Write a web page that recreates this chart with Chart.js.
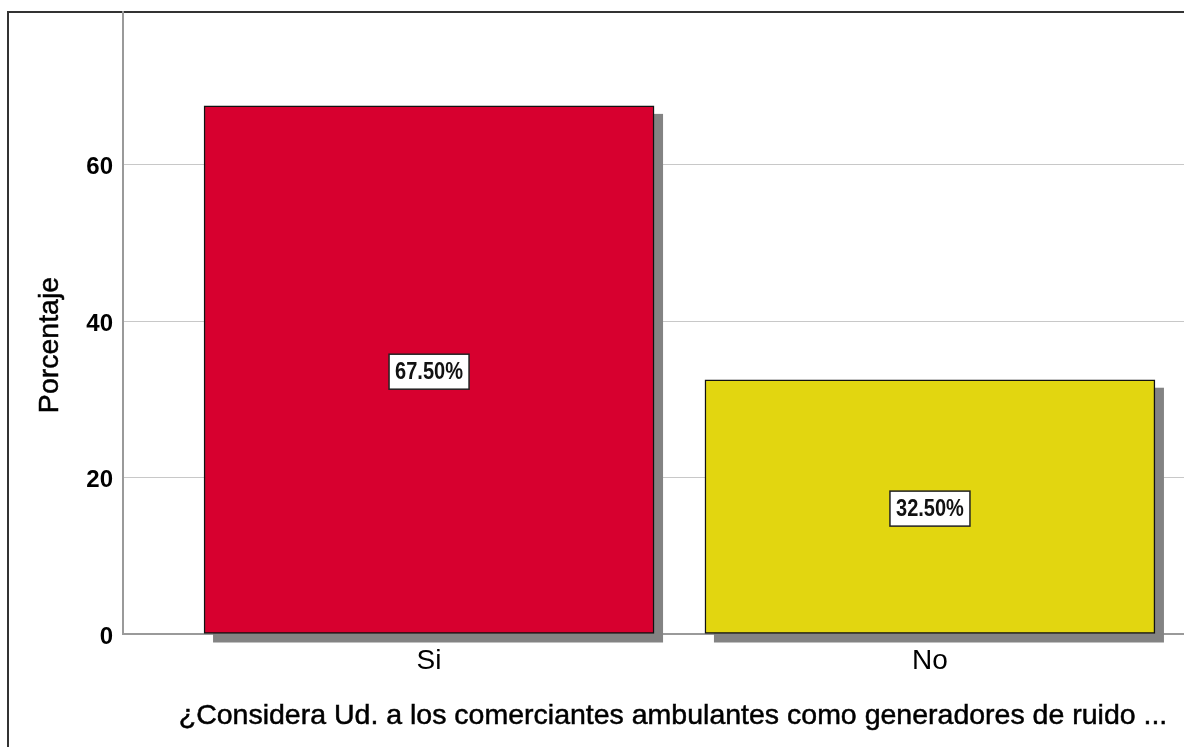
<!DOCTYPE html>
<html>
<head>
<meta charset="utf-8">
<script src="https://cdn.jsdelivr.net/npm/chart.js@4.4.1/dist/chart.umd.min.js"></script>
<style>
  html, body { margin: 0; padding: 0; background: #fff; overflow: hidden; }
  #frame {
    position: absolute; left: 7px; top: 11px; width: 1300px; height: 800px;
    border-left: 2px solid #333; border-top: 2px solid #333;
  }
  #wrap { position: absolute; left: 0; top: 0; width: 1240px; height: 747px; }
</style>
</head>
<body>
<div id="frame"></div>
<div id="wrap"><canvas id="barChart"></canvas></div>
<script>
const categories = ['Si', 'No'];
const percentages = [67.5, 32.5];
const barColors = ['#D7002F', '#E2D610'];
const yTicks = [0, 20, 40, 60];
const yTitle = 'Porcentaje';
const xTitle = '¿Considera Ud. a los comerciantes ambulantes como generadores de ruido ...';

const FONT = '"Liberation Sans", Arial, sans-serif';

// grey drop shadow behind each bar
const barShadow = {
    id: 'barShadow',
    beforeDatasetsDraw(chart) {
        const ctx = chart.ctx;
        ctx.save();
        ctx.fillStyle = '#838383';
        chart.getDatasetMeta(0).data.forEach(bar => {
            const { x, y, base, width } = bar.getProps(['x', 'y', 'base', 'width'], true);
            ctx.fillRect(x - width / 2 + 9, y + 8, width, base - y + 1);
        });
        ctx.restore();
    }
};

// boxed percentage label in the middle of each bar
const valueBoxes = {
    id: 'valueBoxes',
    afterDatasetsDraw(chart) {
        const ctx = chart.ctx;
        ctx.save();
        ctx.font = 'bold 23px ' + FONT;
        ctx.textAlign = 'center';
        ctx.textBaseline = 'middle';
        chart.getDatasetMeta(0).data.forEach((bar, i) => {
            const { x, y, base } = bar.getProps(['x', 'y', 'base'], true);
            const cy = (y + base) / 2 + 2;
            const w = 80, h = 35;
            ctx.fillStyle = '#fff';
            ctx.fillRect(x - w / 2, cy - h / 2, w, h);
            ctx.strokeStyle = '#222';
            ctx.lineWidth = 1.5;
            ctx.strokeRect(x - w / 2, cy - h / 2, w, h);
            // narrow the digits a little
            ctx.save();
            ctx.translate(x, cy + 1);
            ctx.scale(0.87, 1);
            ctx.fillStyle = '#111';
            ctx.fillText(percentages[i].toFixed(2) + '%', 0, 0);
            ctx.restore();
        });
        ctx.restore();
    }
};

// axis titles, placed relative to the chart area
const axisTitles = {
    id: 'axisTitles',
    afterDraw(chart) {
        const ctx = chart.ctx;
        const area = chart.chartArea;
        ctx.save();
        ctx.fillStyle = '#000';
        ctx.strokeStyle = '#000';
        ctx.lineWidth = 0.5;
        ctx.font = '28.5px ' + FONT;
        ctx.textAlign = 'center';
        ctx.textBaseline = 'middle';
        ctx.fillText(xTitle, area.left + 550, area.bottom + 82);
        ctx.strokeText(xTitle, area.left + 550, area.bottom + 82);
        ctx.translate(area.left - 73, area.top + 333);
        ctx.rotate(-Math.PI / 2);
        ctx.fillText(yTitle, 0, 0);
        ctx.strokeText(yTitle, 0, 0);
        ctx.restore();
    }
};

const ctx = document.getElementById('barChart').getContext('2d');
new Chart(ctx, {
    type: 'bar',
    data: {
        datasets: [{
            data: categories.map((c, i) => ({ x: i, y: percentages[i] })),
            backgroundColor: barColors,
            borderColor: '#111',
            borderWidth: 1.5,
            borderSkipped: false,
            barThickness: 450
        }]
    },
    options: {
        responsive: true,
        maintainAspectRatio: false,
        animation: false,
        layout: { padding: { top: 12, right: 4, left: 0, bottom: 0 } },
        plugins: {
            legend: { display: false },
            tooltip: { enabled: false }
        },
        scales: {
            x: {
                type: 'linear',
                offset: false,
                min: -0.611,
                max: 1.611,
                afterFit: s => {
                    s.height = 113;
                    s.paddingLeft = 0;
                    s.paddingRight = 0;
                },
                afterBuildTicks: s => { s.ticks = categories.map((c, i) => ({ value: i })); },
                grid: { display: false, drawTicks: false },
                border: { display: true, color: '#9a9a9a', width: 2 },
                ticks: {
                    padding: 10,
                    color: '#000',
                    font: { family: FONT, size: 28 },
                    callback: v => categories[v]
                }
            },
            y: {
                min: 0,
                max: 79.5,
                afterFit: s => {
                    s.width = 123;
                    s.paddingTop = 0;
                    s.paddingBottom = 0;
                },
                afterBuildTicks: s => { s.ticks = yTicks.map(v => ({ value: v })); },
                grid: { color: '#c8c8c8', lineWidth: 1, drawTicks: false },
                border: { display: true, color: '#9a9a9a', width: 2 },
                ticks: {
                    padding: 10,
                    labelOffset: 3,
                    color: '#000',
                    font: { family: FONT, size: 24, weight: 'bold' }
                }
            }
        }
    },
    plugins: [barShadow, valueBoxes, axisTitles]
});
</script>
</body>
</html>
